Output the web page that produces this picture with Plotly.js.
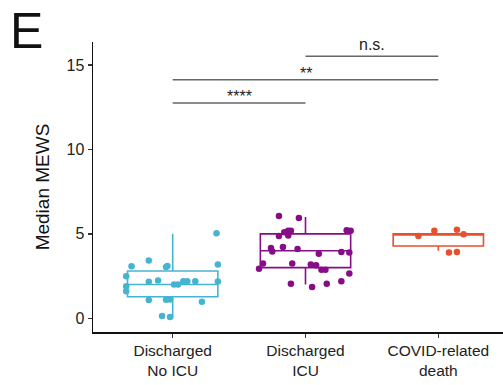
<!DOCTYPE html>
<html>
<head>
<meta charset="utf-8">
<script src="https://cdn.plot.ly/plotly-3.0.1.min.js"></script>
<style>html,body{margin:0;padding:0;background:#fff;}#chart{width:503px;height:385px;}</style>
</head>
<body>
<div id="chart"></div>
<script>
// Categories and tick labels
const categories = ["Discharged No ICU", "Discharged ICU", "COVID-related death"];
const tickLabels = ["Discharged<br>No ICU", "Discharged<br>ICU", "COVID-related<br>death"];
const colors = ["#45b4d1", "#870c87", "#e6502f"];

// Box summary statistics
const q1 = [1.28, 3.0, 4.28];
const med = [2.0, 4.0, 5.0];
const q3 = [2.8, 5.0, 5.0];
const lowF = [0.0, 2.0, 4.0];
const upF = [5.0, 6.0, 5.0];

// Jittered points: horizontal jitter offset and value
const g1Off = [0.33,-0.31,-0.18,-0.05,-0.04,0.34,-0.35,-0.35,-0.35,-0.18,-0.11,0.01,0.04,0.08,0.11,0.17,0.34,-0.18,-0.05,-0.02,0.22,-0.08,-0.02];
const g1Val = [5.04,3.08,3.43,3.04,3.10,3.18,2.49,1.90,1.60,2.16,2.24,2.00,2.00,2.20,2.20,2.20,2.18,1.08,1.10,1.12,0.98,0.14,0.08];
const g2Off = [-0.20,-0.05,-0.16,-0.13,-0.11,-0.20,-0.13,0.31,0.34,-0.26,-0.25,-0.17,-0.06,0.10,0.27,0.33,-0.32,-0.35,-0.10,0.04,0.08,0.12,0.15,0.33,0.27,-0.11,0.05,0.16];
const g2Val = [6.06,5.94,5.10,5.18,5.18,4.88,4.90,5.22,5.18,4.16,3.96,4.22,4.10,3.82,3.92,3.90,3.24,2.94,3.24,3.18,3.14,2.88,2.88,2.65,2.20,2.04,1.86,2.04];
const g3Off = [-0.15,-0.03,0.14,0.19,0.08,0.14];
const g3Val = [4.88,5.18,5.24,4.98,3.90,3.92];

// Significance brackets
const sigFrom = [0, 0, 1];
const sigTo = [1, 2, 2];
const sigY = [12.75, 14.12, 15.51];
const sigLabel = ["****", "**", "n.s."];

const offsets = [g1Off, g2Off, g3Off];
const values = [g1Val, g2Val, g3Val];

const traces = [];
for (let i = 0; i < 3; i++) {
  traces.push({
    type: "box",
    x: [i], q1: [q1[i]], median: [med[i]], q3: [q3[i]],
    lowerfence: [lowF[i]], upperfence: [upF[i]],
    width: 0.68, whiskerwidth: 0,
    line: {color: colors[i], width: 1.6},
    fillcolor: "rgba(255,255,255,0)",
    boxpoints: false, hoverinfo: "skip", name: categories[i], showlegend: false
  });
  traces.push({
    type: "scatter", mode: "markers",
    x: offsets[i].map(o => i + o), y: values[i],
    marker: {color: colors[i], size: 6.5},
    name: categories[i], showlegend: false, hoverinfo: "skip"
  });
}

const shapes = [];
const annotations = [];
for (let k = 0; k < sigY.length; k++) {
  shapes.push({type: "line", xref: "x", yref: "y", x0: sigFrom[k], x1: sigTo[k], y0: sigY[k], y1: sigY[k],
    line: {color: "#666", width: 1.5}});
  const isStar = sigLabel[k].indexOf("*") >= 0;
  annotations.push({xref: "x", yref: "y", x: (sigFrom[k] + sigTo[k]) / 2, y: sigY[k] + (isStar ? -0.25 : 0.1),
    text: sigLabel[k], showarrow: false, yanchor: "bottom",
    font: {family: "Liberation Sans, Arial, sans-serif", size: isStar ? 16 : 16, color: "#222"}});
}
annotations.push({xref: "paper", yref: "paper", x: (26.5 - 93) / 410, y: 1 + (42 - 30.5) / 290,
  xanchor: "center", yanchor: "middle",
  text: "E", showarrow: false, font: {family: "Liberation Sans, Arial, sans-serif", size: 50, color: "#111"}});

const layout = {
  width: 503, height: 385,
  margin: {l: 93, r: 0, t: 42, b: 53},
  paper_bgcolor: "#fff", plot_bgcolor: "#fff",
  showlegend: false,
  font: {family: "Liberation Sans, Arial, sans-serif", color: "#222"},
  xaxis: {
    range: [-0.6, 2.487], tickvals: [0, 1, 2], ticktext: tickLabels,
    showline: true, linecolor: "#111", linewidth: 1.5, showgrid: false, zeroline: false,
    ticks: "outside", ticklen: 4, tickwidth: 1.3, tickcolor: "#333",
    tickfont: {size: 15.5, color: "#222"}
  },
  yaxis: {
    range: [-0.81, 16.36], tickvals: [0, 5, 10, 15],
    showline: true, linecolor: "#111", linewidth: 1.5, showgrid: false, zeroline: false,
    ticks: "outside", ticklen: 4, tickwidth: 1.3, tickcolor: "#333",
    tickfont: {size: 16, color: "#222"},
    title: {text: "Median MEWS", font: {size: 19, color: "#111"}, standoff: 12}
  },
  shapes: shapes,
  annotations: annotations
};

Plotly.newPlot("chart", traces, layout, {displayModeBar: false, staticPlot: true});
</script>
</body>
</html>
